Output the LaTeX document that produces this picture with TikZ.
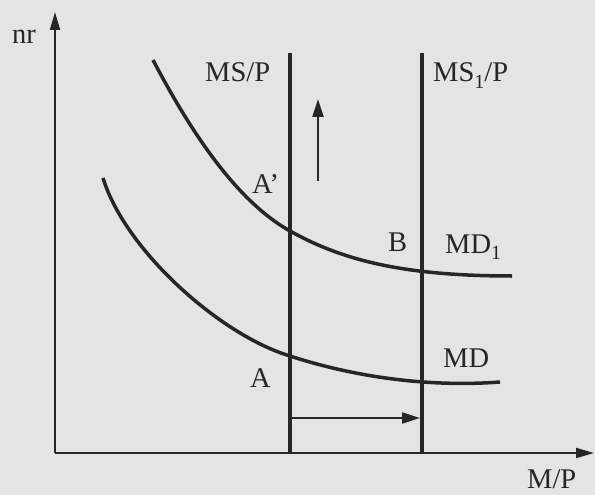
\documentclass[tikz,border=0pt]{standalone}
\usepackage{fontspec}
\setmainfont{Liberation Serif}
\usetikzlibrary{arrows.meta}
\definecolor{paper}{RGB}{228,228,226}
\definecolor{ink}{RGB}{38,38,38}
\newcommand{\subone}{\raisebox{-6pt}{\fontsize{20}{20}\selectfont 1}}
\begin{document}
\begin{tikzpicture}[x=1pt,y=-1pt,
  font=\fontsize{28.5}{32}\selectfont,
  lbl/.style={anchor=base west, inner sep=0pt, text=ink},
  axis/.style={draw=ink, line width=2pt, -{Triangle[length=18pt,width=10pt]}},
  supply/.style={draw=ink, line width=3.5pt},
  demand/.style={draw=ink, line width=3.5pt, line cap=butt},
  shiftarrow/.style={draw=ink, line width=2.2pt, -{Triangle[length=18pt,width=11pt]}}]
\fill[paper] (0,0) rectangle (595,495);
% axes
\coordinate (O) at (55,453);
\coordinate (ytop) at (55,12);
\coordinate (xend) at (594,453);
\draw[axis] (O) -- (ytop);
\draw[axis] (O) -- (xend);
% supply lines
\coordinate (s0top) at (290,53);
\coordinate (s0bot) at (290,453);
\coordinate (s1top) at (422,53);
\coordinate (s1bot) at (422,453);
\draw[supply] (s0top) -- (s0bot);
\draw[supply] (s1top) -- (s1bot);
% demand curves
\coordinate (u0) at (153,60);
\coordinate (uA) at (290,231);
\coordinate (u1) at (512,276);
\draw[demand] (u0) .. controls (195,140) and (240,203) .. (uA)
  .. controls (340,259) and (400,276) .. (u1);
\coordinate (l0) at (103,178);
\coordinate (lA) at (290,356);
\coordinate (l1) at (500,382);
\draw[demand] (l0) .. controls (125,250) and (220,335) .. (lA)
  .. controls (345,374) and (420,388) .. (l1);
% shift arrows
\coordinate (upA) at (318,181);
\coordinate (upB) at (318,99);
\draw[shiftarrow] (upA) -- (upB);
\coordinate (hA) at (291,418);
\coordinate (hB) at (420,418);
\draw[shiftarrow] (hA) -- (hB);
% labels
\node[lbl] (nr) at (12,44) {nr};
\node[lbl] (ms) at (205,82) {MS/P};
\node[lbl] (ms1) at (433,82) {MS\subone/P};
\node[lbl] (Ap) at (252,193) {A\symbol{"27}};
\node[lbl] (A) at (250,387) {A};
\node[lbl] (B) at (388,251) {B};
\node[lbl] (md1) at (445,253) {MD\subone};
\node[lbl] (md) at (443,367) {MD};
\node[lbl] (mp) at (527,488) {M/P};
\end{tikzpicture}
\end{document}
